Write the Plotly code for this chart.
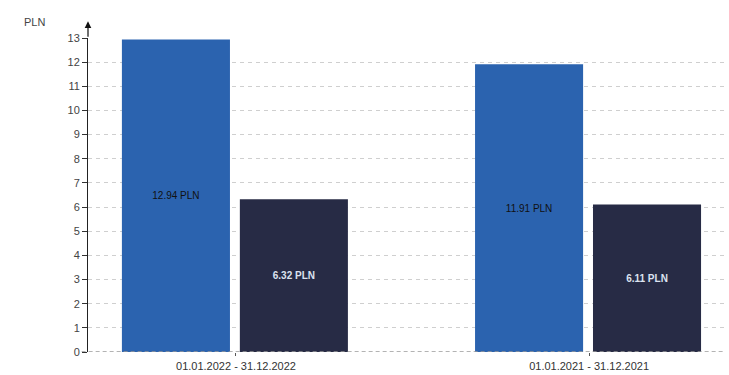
import plotly.graph_objects as go

# Periods and per-period values (PLN)
periods = ["01.01.2022 - 31.12.2022", "01.01.2021 - 31.12.2021"]
series_a = [12.94, 11.91]
series_b = [6.32, 6.11]
y_ticks = list(range(0, 14))

blue = "#2B63AF"
navy = "#272B45"
font_family = "Liberation Sans, Arial, sans-serif"

xpos = list(range(len(periods)))
bar_w = 0.306

fig = go.Figure()
fig.add_trace(go.Bar(
    x=xpos, y=series_a, width=bar_w, offset=-0.323,
    marker=dict(color=blue, line=dict(width=0)),
    text=[f"{v:.2f} PLN" for v in series_a], textposition="inside",
    insidetextanchor="middle",
    textfont=dict(family=font_family, size=10, color="#111111"),
    showlegend=False, hoverinfo="skip",
))
fig.add_trace(go.Bar(
    x=xpos, y=series_b, width=bar_w, offset=0.011,
    marker=dict(color=navy, line=dict(width=0)),
    text=[f"<b>{v:.2f} PLN</b>" for v in series_b], textposition="inside",
    insidetextanchor="middle",
    textfont=dict(family=font_family, size=10, color="#DCE3F0"),
    showlegend=False, hoverinfo="skip",
))

fig.update_layout(
    width=729, height=375,
    margin=dict(l=88, r=5, t=38, b=23),
    paper_bgcolor="white", plot_bgcolor="white",
    font=dict(family=font_family, size=11, color="#444444"),
    barmode="overlay",
    uniformtext=dict(minsize=8, mode="show"),
)
fig.update_xaxes(
    range=[-0.419, 1.382], automargin=False,
    tickmode="array", tickvals=xpos, ticktext=periods,
    ticks="outside", ticklen=3, tickcolor="#555555",
    ticklabelstandoff=1,
    showgrid=False, zeroline=False, showline=False,
    tickfont=dict(size=11, color="#333333"),
)
fig.update_yaxes(
    range=[0, 13], tickmode="array", tickvals=y_ticks, automargin=False,
    ticks="outside", ticklen=5, tickcolor="#333333",
    showgrid=True, gridcolor="#CFCFCF", griddash="4px,4px", gridwidth=1,
    zeroline=False, showline=True, linecolor="#222222", linewidth=1,
    tickfont=dict(size=11, color="#444444"),
)

# baseline along the bottom
fig.add_shape(type="line", xref="paper", yref="y", x0=-0.01, x1=1, y0=0, y1=0,
              line=dict(color="#9A9A9A", width=1.5, dash="4px,3px"), layer="above")

# arrow on top of the value axis
fig.add_annotation(xref="paper", yref="paper", x=0, y=1.053, ax=0, ay=17,
                   text="", showarrow=True, arrowhead=2, arrowsize=1.1,
                   arrowwidth=1.2, arrowcolor="#111111")

# axis unit label
fig.add_annotation(xref="paper", yref="paper", x=-0.065, y=1.051,
                   text="PLN", showarrow=False, xanchor="right", yanchor="middle",
                   font=dict(size=11, color="#444444"))

fig.write_html("out.html")
